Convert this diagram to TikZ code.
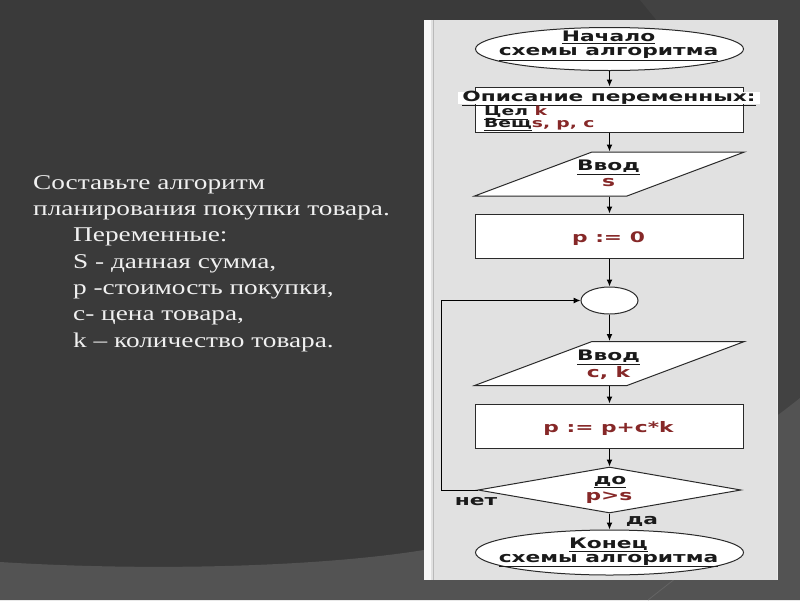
\documentclass[tikz,border=0pt]{standalone}
\usepackage{fontspec}
\setmainfont{Liberation Serif}
\newfontfamily\slidefont[FakeStretch=1.3]{Liberation Serif}
\newfontfamily\fcfont[FakeStretch=1.5]{DejaVu Sans}
\newfontfamily\fcwidefont[FakeStretch=1.55]{DejaVu Sans}
\usetikzlibrary{shapes.geometric,arrows.meta}
\definecolor{bgdark}{HTML}{3A3A3A}
\definecolor{bglight}{HTML}{424242}
\definecolor{bgband}{HTML}{535353}
\definecolor{panelgray}{HTML}{E1E1E1}
\definecolor{varred}{HTML}{862828}
\definecolor{edgecol}{HTML}{2A2A2A}
\definecolor{slidetext}{HTML}{F0F0F0}
\definecolor{labelblack}{HTML}{1A1A1A}
\begin{document}
\begin{tikzpicture}[x=1pt,y=-1pt,
  fc/.style={font=\fcfont\bfseries\fontsize{14.5}{17}\selectfont, text=labelblack,
    inner sep=0pt, anchor=base},
  fcsmall/.style={font=\fcfont\bfseries\fontsize{12.5}{14}\selectfont, text=labelblack,
    inner sep=0pt, anchor=base west},
  varlbl/.style={fc, text=varred},
  shapebox/.style={draw=edgecol, line width=1pt, fill=white, inner sep=2pt},
  termbox/.style={shapebox, ellipse, minimum width=268pt, minimum height=43pt},
  procbox/.style={shapebox, rectangle, minimum width=268pt, minimum height=44pt},
  iobox/.style={shapebox, trapezium, trapezium left angle=50, trapezium right angle=130,
    trapezium stretches=true, minimum width=270pt, minimum height=44pt},
  condbox/.style={shapebox, diamond, minimum width=263pt, minimum height=46pt},
  joinbox/.style={shapebox, ellipse, minimum width=57pt, minimum height=27pt},
  flowarrow/.style={draw=black, line width=1.2pt, -{Latex[length=7pt,width=6pt]}},
  flowline/.style={draw=black, line width=1pt},
  slideline/.style={anchor=base west, inner sep=0pt, text=slidetext,
    font=\slidefont\fontsize{21}{26}\selectfont}
]
\useasboundingbox (0,0) rectangle (800,600);
% background
\fill[bgdark] (0,0) rectangle (800,600);
\fill[bglight] (640,0) -- (800,0) -- (800,420) -- (760,420) -- (658,22) -- cycle;
\fill[bgband] (0,562) .. controls (160,572) and (330,566) .. (430,549)
  .. controls (600,530) and (720,462) .. (800,398) -- (800,600) -- (0,600) -- cycle;
\draw[gray!60!bgdark, line width=0.8pt] (648,600) -- (676,578);
% panel
\fill[panelgray] (424,20) rectangle (778,580);
\fill[white!94!gray] (424,20) rectangle (431,580);
\draw[gray!55, line width=0.8pt] (433,20) -- (433,580);
\draw[white!85!gray, line width=1pt] (777,20) -- (777,580);

% left text
\node[slideline] (l1) at (33,189) {Составьте алгоритм};
\node[slideline] (l2) at (33,215.5) {планирования покупки товара.};
\node[slideline] (l3) at (73,241.5) {Переменные:};
\node[slideline] (l4) at (73,268) {S - данная сумма,};
\node[slideline] (l5) at (73,294) {p -стоимость покупки,};
\node[slideline] (l6) at (73,320.5) {c- цена товара,};
\node[slideline] (l7) at (73,347) {k – количество товара.};

% flowchart shapes
\node[termbox] (start) at (609.5,49) {};
\node[procbox, minimum height=45pt] (desc) at (609.5,109.5) {};
\node[fill=white, inner sep=0pt, minimum width=302pt, minimum height=12pt] (deschead) at (609,98) {};
\node[iobox] (in1) at (609.5,174) {\strut};
\node[procbox] (set0) at (609.5,236) {};
\node[joinbox] (merge) at (609.5,300.5) {};
\node[iobox] (in2) at (609.5,363.5) {\strut};
\node[procbox] (acc) at (609.5,426) {};
\node[condbox] (cond) at (609.5,490) {};
\node[termbox, minimum height=45pt] (stop) at (609.5,552.5) {};
\coordinate (loopc) at (441,490);

% flowchart texts
\node[fc] (startt1) at (608.5,41.5) {\underline{Начало}};
\node[fc] (startt2) at (608.5,55.5) {\underline{схемы алгоритма}};
\node[fc, font=\fcwidefont\bfseries\fontsize{14}{17}\selectfont] (headt) at (609,101) {\underline{Описание переменных:}};
\node[fcsmall] (cel) at (484,115.5) {\underline{Цел} {\color{varred}k}};
\node[fcsmall] (vesh) at (484,127.5) {\underline{Вещ}{\color{varred}s,\enspace p,\enspace c}};
\node[fc] (in1t1) at (608.5,170.5) {\underline{Ввод}};
\node[varlbl] (in1t2) at (608.5,186.5) {s};
\node[varlbl] (set0t) at (608.5,242.5) {p := 0};
\node[fc] (in2t1) at (608.5,360.5) {\underline{Ввод}};
\node[varlbl] (in2t2) at (608.5,377) {c, k};
\node[varlbl] (acct) at (608.5,432.5) {p := p+c*k};
\node[fc] (condt1) at (610,484) {\underline{до}};
\node[varlbl] (condt2) at (609,500.5) {p>s};
\node[fc] (stopt1) at (608.5,548) {\underline{Конец}};
\node[fc] (stopt2) at (608.5,562) {\underline{схемы алгоритма}};

% connectors
\draw[flowarrow] (start.south) -- (desc.north);
\draw[flowarrow] (desc.south) -- (in1.north);
\draw[flowarrow] (in1.south) -- (set0.north);
\draw[flowarrow] (set0.south) -- (merge.north);
\draw[flowarrow] (merge.south) -- (in2.north);
\draw[flowarrow] (in2.south) -- (acc.north);
\draw[flowarrow] (acc.south) -- (cond.north);
\draw[flowarrow] (cond.south) -- (stop.north);
\draw[flowline] (cond.west) -- (loopc);
\draw[flowarrow, line width=1pt] (loopc) |- (merge.west);

\node[fc] (no) at (476,505) {нет};
\node[fc] (yes) at (642,524) {да};
\end{tikzpicture}
\end{document}
